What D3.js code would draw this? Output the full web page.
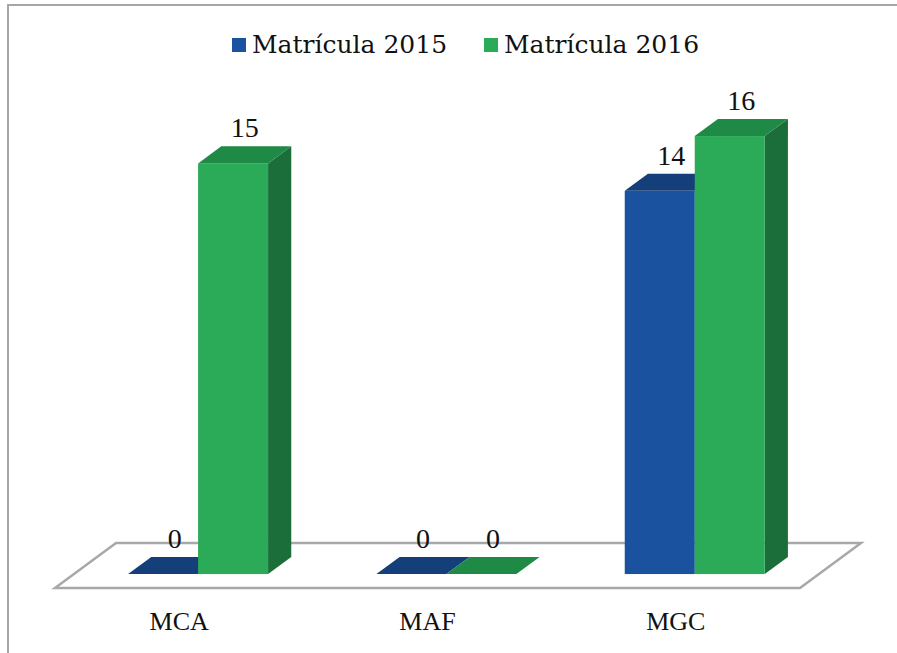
<!DOCTYPE html>
<html>
<head>
<meta charset="utf-8">
<script src="https://cdn.jsdelivr.net/npm/d3@7.9.0/dist/d3.min.js"></script>
<style>
  html, body { margin: 0; padding: 0; background: #fff; }
  svg { display: block; }
</style>
</head>
<body>
<svg id="chart" width="897" height="653"></svg>
<script>
const categories = ['MCA', 'MAF', 'MGC'];
const seriesNames = ['Matrícula 2015', 'Matrícula 2016'];
const values2015 = [0, 0, 14];
const values2016 = [15, 0, 16];

const colors = {
  'Matrícula 2015': { front: '#1b52a0', top: '#143f7b', side: '#123466' },
  'Matrícula 2016': { front: '#2bab57', top: '#1f8a45', side: '#1b6e3a' }
};

const svg = d3.select('#chart');

// frame (only top + left edges visible)
svg.append('rect')
  .attr('x', 8).attr('y', 5)
  .attr('width', 900).attr('height', 660)
  .attr('fill', 'none')
  .attr('stroke', '#a6a6a6')
  .attr('stroke-width', 2);

// floor geometry
const floorLeft = 55, floorRight = 800, floorFront = 588;
const depth = { dx: 61, dy: -45 };
const barDepthStart = 0.31, barDepthEnd = 0.69;

const x0 = d3.scaleBand().domain(categories).range([floorLeft, floorRight]);
const x1 = d3.scaleBand().domain(seriesNames).range([0, x0.bandwidth()])
  .paddingInner(0).paddingOuter(0.774);
const y = d3.scaleLinear().domain([0, 16]).range([0, 438]);

const line = d3.line();

svg.append('path')
  .attr('d', line([
    [floorLeft, floorFront],
    [floorLeft + depth.dx, floorFront + depth.dy],
    [floorRight + depth.dx, floorFront + depth.dy],
    [floorRight, floorFront]
  ]) + 'Z')
  .attr('fill', '#fff')
  .attr('stroke', '#a8a8a8')
  .attr('stroke-width', 2.5);

const data = [];
categories.forEach((c, i) => {
  data.push({ cat: c, series: seriesNames[0], value: values2015[i] });
  data.push({ cat: c, series: seriesNames[1], value: values2016[i] });
});

const fx = depth.dx * barDepthStart, fy = depth.dy * barDepthStart;
const ddx = depth.dx * (barDepthEnd - barDepthStart);
const ddy = depth.dy * (barDepthEnd - barDepthStart);

const bars = svg.append('g');
data.forEach(d => {
  const left = x0(d.cat) + x1(d.series) + fx;
  const right = left + x1.bandwidth();
  const bottom = floorFront + fy;
  const top = bottom - y(d.value);
  const col = colors[d.series];
  const g = bars.append('g');
  if (d.value > 0) {
    g.append('path')
      .attr('d', line([[right, bottom], [right + ddx, bottom + ddy], [right + ddx, top + ddy], [right, top]]) + 'Z')
      .attr('fill', col.side);
    g.append('rect')
      .attr('x', left).attr('y', top)
      .attr('width', right - left).attr('height', bottom - top)
      .attr('fill', col.front);
  }
  g.append('path')
    .attr('d', line([[left, top], [left + ddx, top + ddy], [right + ddx, top + ddy], [right, top]]) + 'Z')
    .attr('fill', col.top);
  d.labelX = (left + right + ddx) / 2;
  d.labelY = top + ddy - 9;
});

svg.append('g').selectAll('text')
  .data(data)
  .join('text')
  .attr('x', d => d.labelX)
  .attr('y', d => d.labelY)
  .attr('text-anchor', 'middle')
  .attr('font-family', '"Liberation Serif", "Times New Roman", serif')
  .attr('font-size', 28)
  .attr('fill', '#111')
  .text(d => d.value);

// category labels
svg.append('g').selectAll('text')
  .data(categories)
  .join('text')
  .attr('x', d => x0(d) + x0.bandwidth() / 2)
  .attr('y', 630)
  .attr('text-anchor', 'middle')
  .attr('font-family', '"Liberation Serif", "Times New Roman", serif')
  .attr('font-size', 26)
  .attr('fill', '#111')
  .text(d => d);

// legend
const legendX = [232, 484];
const legend = svg.append('g');
seriesNames.forEach((s, i) => {
  legend.append('rect')
    .attr('x', legendX[i]).attr('y', 38)
    .attr('width', 14).attr('height', 14)
    .attr('fill', colors[s].front);
  legend.append('text')
    .attr('x', legendX[i] + 20).attr('y', 53)
    .attr('font-family', '"DejaVu Serif", serif')
    .attr('font-size', 25)
    .attr('fill', '#111')
    .text(s);
});
</script>
</body>
</html>
